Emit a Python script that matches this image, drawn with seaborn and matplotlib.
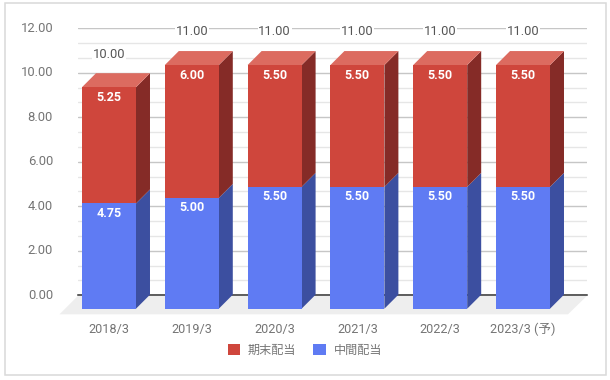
import matplotlib
matplotlib.use("Agg")
import matplotlib.pyplot as plt
from matplotlib.patches import Polygon, Rectangle
from matplotlib.ticker import MultipleLocator
from matplotlib.transforms import ScaledTranslation
import pandas as pd
import seaborn as sns

# ========= DATA =========
years = ["2018/3", "2019/3", "2020/3", "2021/3", "2022/3", "2023/3 (予)"]
interim = [4.75, 5.00, 5.50, 5.50, 5.50, 5.50]
final = [5.25, 6.00, 5.50, 5.50, 5.50, 5.50]
y_ticks = [0, 2, 4, 6, 8, 10, 12]

# ========= LAYOUT (pixels) =========
W, H = 610, 380
sns.set_theme(style="white")
plt.rcParams["font.family"] = ["Roboto", "Noto Sans CJK JP", "DejaVu Sans"]
fs = 8.7
BLUE, BLUE_SIDE = "#5f7bf3", "#3c4fa0"
RED, RED_SIDE, RED_TOP = "#cf463c", "#852b27", "#dc6b60"
GREY = "#757575"

def px_axes(fig, left, right, top, bottom):
    return fig.add_axes([left / W, 1 - bottom / H, (right - left) / W, (bottom - top) / H])

fig = plt.figure(figsize=(W / 100, H / 100), dpi=100, facecolor="white")
fig.add_artist(Rectangle((4.5 / W, 1 - 375 / H), 601 / W, 372 / H, transform=fig.transFigure,
                         fill=False, edgecolor="#d9d9d9", linewidth=1.1))

# ========= BACK WALL: grid and value axis =========
back = px_axes(fig, 78, 587, 28.3, 295.3)
back.set_xlim(0, 1)
back.set_ylim(0, 12)
back.set_xticks([])
back.set_yticks(y_ticks)
back.set_yticklabels([f"{v:.2f}" for v in y_ticks], fontsize=fs + 0.7, color=GREY)
back.yaxis.set_minor_locator(MultipleLocator(2 / 3))
back.tick_params(axis="y", which="both", length=0, pad=18)
# labels sit a little above their gridlines; tick_params resets this, so it comes after
for lab in back.get_yticklabels():
    lab.set_transform(lab.get_transform() + ScaledTranslation(0, 1.5 / 100, fig.dpi_scale_trans))
back.grid(axis="y", which="major", color="#c6c6c6", linewidth=1)
back.grid(axis="y", which="minor", color="#e6e6e6", linewidth=1)
back.set_axisbelow(True)
sns.despine(ax=back, left=True, right=True, top=True, bottom=False)
back.spines["bottom"].set_color("#333333")
back.spines["bottom"].set_linewidth(1.1)

# floor
fig.add_artist(Polygon([[78 / W, 1 - 295.8 / H], [587 / W, 1 - 295.8 / H],
                        [568 / W, 1 - 314.3 / H], [59.5 / W, 1 - 314.3 / H]],
                       transform=fig.transFigure, facecolor="#eeeeee", edgecolor="none", zorder=0.5))
back.set_zorder(1)
back.patch.set_alpha(0)

# ========= FRONT PLANE: the bars =========
front = px_axes(fig, 67.6, 564.4, 42.9, 308.7)
front.set_zorder(2)
front.patch.set_alpha(0)

df = pd.DataFrame({"year": years, "interim": interim, "final": final})
df["total"] = df["interim"] + df["final"]

sns.barplot(data=df, x="year", y="total", color=RED, saturation=1, width=0.652,
            label="期末配当", ax=front, zorder=3, linewidth=0, edgecolor="none", legend=False)
sns.barplot(data=df, x="year", y="interim", color=BLUE, saturation=1, width=0.652,
            label="中間配当", ax=front, zorder=3, linewidth=0, edgecolor="none", legend=False)
front.set_xlim(-0.5, 5.5)
front.set_ylim(0, 12)
front.set_xlabel("")
front.set_ylabel("")
front.set_yticks([])
front.tick_params(axis="x", length=0, pad=10, labelsize=fs + 0.4, labelcolor=GREY)
sns.despine(ax=front, left=True, bottom=True)

# 3D depth of the columns, converted from pixels to data units
dx = 14 / (496.8 / 6)
dy = 14 / (265.8 / 12)

def face(points, color):
    front.add_patch(Polygon(points, facecolor=color, edgecolor="none", clip_on=False, zorder=2))

red_bars = front.containers[0]
blue_bars = front.containers[1]
for r, b, val_i, val_f in zip(red_bars, blue_bars, df["interim"], df["final"]):
    x0 = r.get_x()
    x1 = x0 + r.get_width()
    mid = b.get_height()
    top = r.get_height()
    face([(x1, 0), (x1 + dx, dy), (x1 + dx, mid + dy), (x1, mid)], BLUE_SIDE)
    face([(x1, mid), (x1 + dx, mid + dy), (x1 + dx, top + dy), (x1, top)], RED_SIDE)
    face([(x0, top), (x0 + dx, top + dy), (x1 + dx, top + dy), (x1, top)], RED_TOP)

    xc = (x0 + x1) / 2
    for level, value in ((mid, val_i), (top, val_f)):
        front.annotate(f"{value:.2f}", (xc, level), xytext=(0, -7.2), textcoords="offset points",
                       ha="center", va="center", color="white", fontsize=fs + 0.3,
                       fontweight="bold", zorder=5)
    front.annotate(f"{top:.2f}", (xc, top), xytext=(0, 23.8), textcoords="offset points",
                   ha="center", va="center", color="#555555", fontsize=fs + 0.6, zorder=5,
                   annotation_clip=False,
                   bbox=dict(facecolor="white", edgecolor="none", pad=0.6))

# ========= LEGEND =========
handles, labels = front.get_legend_handles_labels()
fig.legend(handles, labels, ncol=2, loc="center", bbox_to_anchor=(305 / W, 1 - 350 / H),
           frameon=False, fontsize=fs, labelcolor=GREY, handlelength=1, handleheight=1,
           handletextpad=0.67, columnspacing=1.4, borderpad=0)

fig.savefig("out.png", dpi=100, facecolor="white")
